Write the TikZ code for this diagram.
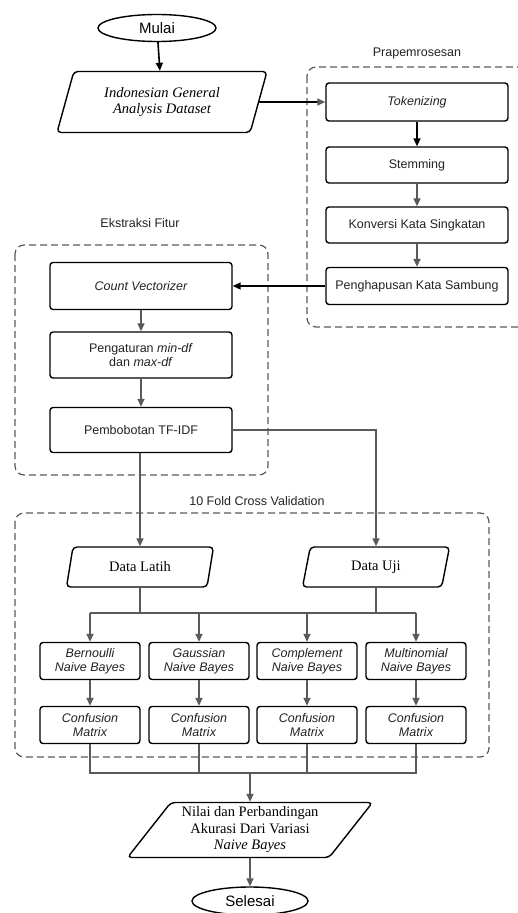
\documentclass[tikz,border=0pt]{standalone}
\usepackage{fontspec}
\setmainfont{Liberation Sans}
\newfontfamily\seriffont{Liberation Serif}
\usetikzlibrary{shapes.geometric,arrows.meta}

\definecolor{linegray}{HTML}{5A5A5A}
\definecolor{textgray}{HTML}{222222}

\tikzset{
  proses/.style={draw,line width=1.4pt,rounded corners=3pt,align=center,
    minimum width=182pt,minimum height=38pt,inner sep=2pt,text=textgray},
  kecil/.style={proses,minimum width=100pt,minimum height=37pt,font=\fontsize{12.5}{14}\selectfont\itshape},
  terminal/.style={draw,ellipse,line width=1.4pt,minimum width=118pt,minimum height=27pt,inner sep=0pt,
    font=\fontsize{15}{17}\selectfont},
  datain/.style={draw,trapezium,trapezium left angle=62,trapezium right angle=118,
    trapezium stretches body,line width=1.4pt,rounded corners=4pt,align=center,inner sep=1pt,
    font=\fontsize{14.5}{16.5}\selectfont\seriffont},
  grup/.style={draw=linegray,line width=1.2pt,rounded corners=9pt,dash pattern=on 7pt off 4pt},
  judul/.style={text=textgray,font=\fontsize{12.5}{14}\selectfont},
  garis/.style={draw=linegray,line width=1.6pt},
  panah/.style={garis,->},
  hitam/.style={draw=black,line width=1.6pt,->}
}

\begin{document}
\begin{tikzpicture}[x=1pt,y=-1pt,>={Triangle[length=8pt,width=7pt]},
  every node/.append style={font=\fontsize{12.5}{14.5}\selectfont}]
\useasboundingbox (0,0) rectangle (518,913);

% kelompok
\draw[grup] (307,67) rectangle (540,327);
\node[judul] (lblpra) at (417,53) {Prapemrosesan};
\draw[grup] (15,245) rectangle (268,475);
\node[judul] (lblfitur) at (140,223) {Ekstraksi Fitur};
\draw[grup] (15,513) rectangle (489,757);
\node[judul] (lblvalid) at (257,501) {10 Fold Cross Validation};

% alur utama
\node[terminal] (mulai) at (157,28) {Mulai};
\node[datain,minimum width=210pt,minimum height=61pt] (dataset) at (162,102) {\itshape Indonesian General\\\itshape Analysis Dataset};

\node[proses] (token) at (417,102) {\itshape Tokenizing};
\node[proses,minimum height=36pt] (stem) at (417,165) {Stemming};
\node[proses,minimum height=36pt] (konversi) at (417,225) {Konversi Kata Singkatan};
\node[proses,minimum height=37pt] (hapus) at (417,286) {Penghapusan Kata Sambung};

\node[proses,minimum height=47pt] (count) at (141,286) {\itshape Count Vectorizer};
\node[proses,minimum height=46pt] (atur) at (141,355) {Pengaturan \textit{min-df}\\dan \textit{max-df}};
\node[proses,minimum height=45pt] (bobot) at (141,430) {Pembobotan TF-IDF};

\node[datain,minimum width=147pt,minimum height=40pt] (latih) at (140,567) {Data Latih};
\node[datain,minimum width=147pt,minimum height=40pt] (uji) at (376,567) {Data Uji};

\node[kecil] (bernoulli) at (90,661) {Bernoulli\\Naive Bayes};
\node[kecil] (gaussian) at (199,661) {Gaussian\\Naive Bayes};
\node[kecil] (complement) at (307,661) {Complement\\Naive Bayes};
\node[kecil] (multinomial) at (416,661) {Multinomial\\Naive Bayes};

\node[kecil] (cm1) at (90,725) {Confusion\\Matrix};
\node[kecil] (cm2) at (199,725) {Confusion\\Matrix};
\node[kecil] (cm3) at (307,725) {Confusion\\Matrix};
\node[kecil] (cm4) at (416,725) {Confusion\\Matrix};

\node[datain,trapezium left angle=48,trapezium right angle=132,minimum width=245pt,minimum height=55pt] (hasil) at (250,830)
  {Nilai dan Perbandingan\\Akurasi Dari Variasi\\\itshape Naive Bayes};
\node[terminal,minimum width=116pt,minimum height=28pt] (selesai) at (250,901) {Selesai};

\coordinate (bagi) at (0,613);
\coordinate (gabung) at (250,773);

% konektor
\draw[hitam] (mulai) -- (dataset);
\draw[draw=black,line width=1.6pt,-{Triangle[length=8pt,width=7pt,color=linegray]}] (dataset.east) -- (token.west);
\draw[hitam] (token) -- (stem);
\draw[panah] (stem) -- (konversi);
\draw[panah] (konversi) -- (hapus);
\draw[hitam] (hapus.west) -- (count.east);
\draw[panah] (count) -- (atur);
\draw[panah] (atur) -- (bobot);
\draw[panah] (bobot.south -| latih.north) -- (latih.north);
\draw[panah] (bobot.east) -| (uji.north);

\draw[garis] (latih.south) -- (latih.south |- bagi);
\draw[garis] (uji.south) -- (uji.south |- bagi);
\draw[garis] (bernoulli.north |- bagi) -- (multinomial.north |- bagi);
\draw[panah] (bernoulli.north |- bagi) -- (bernoulli.north);
\draw[panah] (gaussian.north |- bagi) -- (gaussian.north);
\draw[panah] (complement.north |- bagi) -- (complement.north);
\draw[panah] (multinomial.north |- bagi) -- (multinomial.north);

\draw[panah] (bernoulli) -- (cm1);
\draw[panah] (gaussian) -- (cm2);
\draw[panah] (complement) -- (cm3);
\draw[panah] (multinomial) -- (cm4);

\draw[garis,line width=1.3pt] (cm1.south) -- (cm1.south |- gabung) -- (cm4.south |- gabung) -- (cm4.south);
\draw[garis,line width=1.3pt] (cm2.south) -- (cm2.south |- gabung);
\draw[garis,line width=1.3pt] (cm3.south) -- (cm3.south |- gabung);
\draw[panah] (gabung) -- (hasil.north);
\draw[panah] (hasil) -- (selesai);
\end{tikzpicture}
\end{document}
